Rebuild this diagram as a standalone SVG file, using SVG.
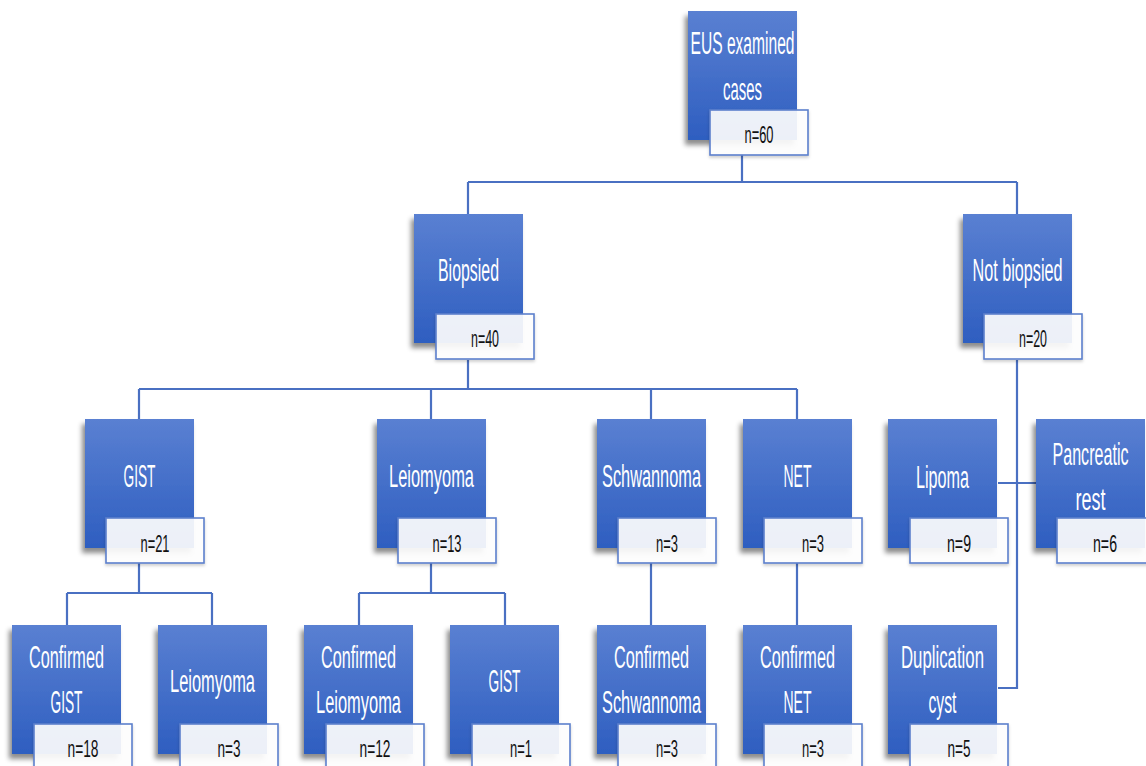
<svg xmlns="http://www.w3.org/2000/svg" width="1146" height="766" viewBox="0 0 1146 766">
<defs>
<linearGradient id="bg" x1="0" y1="0" x2="0" y2="1">
<stop offset="0" stop-color="#5a80d2"/>
<stop offset="1" stop-color="#2e5ec0"/>
</linearGradient>
<filter id="sh" x="-20%" y="-20%" width="140%" height="140%">
<feDropShadow dx="-3" dy="5" stdDeviation="2.5" flood-color="#000" flood-opacity="0.45"/>
</filter>
<filter id="sh2" x="-20%" y="-20%" width="140%" height="140%">
<feDropShadow dx="0" dy="2" stdDeviation="1.5" flood-color="#000" flood-opacity="0.2"/>
</filter>
</defs>
<style>
.b{fill:url(#bg);filter:url(#sh)}
.l{fill:#ffffff;fill-opacity:0.9;stroke:#5d80cc;stroke-width:1.6;filter:url(#sh2)}
.t{font-family:"Liberation Sans","DejaVu Sans",sans-serif;font-size:31px;fill:#ffffff;text-anchor:middle}
.n{font-family:"Liberation Sans","DejaVu Sans",sans-serif;font-size:24px;fill:#111111;text-anchor:middle}
.c{fill:none;stroke:#4a70c2;stroke-width:2.2}
</style>
<rect width="1146" height="766" fill="#ffffff"/>
<g id="connectors">
<path class="c" d="M742 154V182M468 182H1017M468 182V214M1017 182V214"/>
<path class="c" d="M468 360V389M139 389H797M139 389V419M431 389V419M651 389V419M797 389V419"/>
<path class="c" d="M1017 360V688H998M998 483H1036"/>
<path class="c" d="M139 563V593M67 593H212M67 593V625M212 593V625"/>
<path class="c" d="M431 563V593M359 593H505M359 593V625M505 593V625"/>
<path class="c" d="M651 563V625M797 563V625"/>
</g>
<g id="root">
<rect class="b" x="688" y="11" width="109" height="129"/>
<text class="t" x="742.5" y="54" textLength="104" lengthAdjust="spacingAndGlyphs">EUS examined</text>
<text class="t" x="742.5" y="100" textLength="39" lengthAdjust="spacingAndGlyphs">cases</text>
<rect class="l" x="710" y="110" width="98" height="45"/>
<text class="n" x="759" y="143" textLength="29" lengthAdjust="spacingAndGlyphs">n=60</text>
</g>
<g id="biopsied">
<rect class="b" x="414" y="214" width="109" height="129"/>
<text class="t" x="468.5" y="281" textLength="61" lengthAdjust="spacingAndGlyphs">Biopsied</text>
<rect class="l" x="436" y="314" width="98" height="45"/>
<text class="n" x="485" y="347" textLength="28" lengthAdjust="spacingAndGlyphs">n=40</text>
</g>
<g id="notbiopsied">
<rect class="b" x="963" y="214" width="109" height="129"/>
<text class="t" x="1017.5" y="281" textLength="90" lengthAdjust="spacingAndGlyphs">Not biopsied</text>
<rect class="l" x="984" y="314" width="98" height="45"/>
<text class="n" x="1033" y="347" textLength="28" lengthAdjust="spacingAndGlyphs">n=20</text>
</g>
<g id="gist">
<rect class="b" x="85" y="419" width="109" height="129"/>
<text class="t" x="139.5" y="487" textLength="32" lengthAdjust="spacingAndGlyphs">GIST</text>
<rect class="l" x="106" y="518" width="98" height="45"/>
<text class="n" x="155" y="552" textLength="29" lengthAdjust="spacingAndGlyphs">n=21</text>
</g>
<g id="leiomyoma">
<rect class="b" x="377" y="419" width="109" height="129"/>
<text class="t" x="431.5" y="487" textLength="85" lengthAdjust="spacingAndGlyphs">Leiomyoma</text>
<rect class="l" x="398" y="518" width="98" height="45"/>
<text class="n" x="447" y="552" textLength="29" lengthAdjust="spacingAndGlyphs">n=13</text>
</g>
<g id="schwannoma">
<rect class="b" x="597" y="419" width="109" height="129"/>
<text class="t" x="651.5" y="487" textLength="99" lengthAdjust="spacingAndGlyphs">Schwannoma</text>
<rect class="l" x="618" y="518" width="98" height="45"/>
<text class="n" x="667" y="552" textLength="22" lengthAdjust="spacingAndGlyphs">n=3</text>
</g>
<g id="net">
<rect class="b" x="743" y="419" width="109" height="129"/>
<text class="t" x="797.5" y="487" textLength="28" lengthAdjust="spacingAndGlyphs">NET</text>
<rect class="l" x="764" y="518" width="98" height="45"/>
<text class="n" x="813" y="552" textLength="22" lengthAdjust="spacingAndGlyphs">n=3</text>
</g>
<g id="lipoma">
<rect class="b" x="888" y="419" width="109" height="129"/>
<text class="t" x="942.5" y="488" textLength="53" lengthAdjust="spacingAndGlyphs">Lipoma</text>
<rect class="l" x="910" y="518" width="98" height="45"/>
<text class="n" x="959" y="552" textLength="24" lengthAdjust="spacingAndGlyphs">n=9</text>
</g>
<g id="pancreatic">
<rect class="b" x="1036" y="419" width="109" height="129"/>
<text class="t" x="1090.5" y="465" textLength="76" lengthAdjust="spacingAndGlyphs">Pancreatic</text>
<text class="t" x="1090.5" y="510" textLength="30" lengthAdjust="spacingAndGlyphs">rest</text>
<rect class="l" x="1057" y="518" width="98" height="45"/>
<text class="n" x="1105" y="552" textLength="24" lengthAdjust="spacingAndGlyphs">n=6</text>
</g>
<g id="confirmedgist">
<rect class="b" x="12" y="625" width="109" height="129"/>
<text class="t" x="66.5" y="668" textLength="75" lengthAdjust="spacingAndGlyphs">Confirmed</text>
<text class="t" x="66.5" y="713" textLength="32" lengthAdjust="spacingAndGlyphs">GIST</text>
<rect class="l" x="34" y="724" width="98" height="45"/>
<text class="n" x="83" y="757" textLength="31" lengthAdjust="spacingAndGlyphs">n=18</text>
</g>
<g id="leiomyoma2">
<rect class="b" x="158" y="625" width="109" height="129"/>
<text class="t" x="212.5" y="692" textLength="85" lengthAdjust="spacingAndGlyphs">Leiomyoma</text>
<rect class="l" x="180" y="724" width="98" height="45"/>
<text class="n" x="229" y="757" textLength="23" lengthAdjust="spacingAndGlyphs">n=3</text>
</g>
<g id="confirmedleiomyoma">
<rect class="b" x="304" y="625" width="109" height="129"/>
<text class="t" x="358.5" y="668" textLength="75" lengthAdjust="spacingAndGlyphs">Confirmed</text>
<text class="t" x="358.5" y="713" textLength="85" lengthAdjust="spacingAndGlyphs">Leiomyoma</text>
<rect class="l" x="326" y="724" width="98" height="45"/>
<text class="n" x="375" y="757" textLength="31" lengthAdjust="spacingAndGlyphs">n=12</text>
</g>
<g id="gist2">
<rect class="b" x="450" y="625" width="109" height="129"/>
<text class="t" x="504.5" y="692" textLength="32" lengthAdjust="spacingAndGlyphs">GIST</text>
<rect class="l" x="472" y="724" width="98" height="45"/>
<text class="n" x="521" y="757" textLength="22" lengthAdjust="spacingAndGlyphs">n=1</text>
</g>
<g id="confirmedschwannoma">
<rect class="b" x="597" y="625" width="109" height="129"/>
<text class="t" x="651.5" y="668" textLength="75" lengthAdjust="spacingAndGlyphs">Confirmed</text>
<text class="t" x="651.5" y="713" textLength="99" lengthAdjust="spacingAndGlyphs">Schwannoma</text>
<rect class="l" x="618" y="724" width="98" height="45"/>
<text class="n" x="667" y="757" textLength="22" lengthAdjust="spacingAndGlyphs">n=3</text>
</g>
<g id="confirmednet">
<rect class="b" x="743" y="625" width="109" height="129"/>
<text class="t" x="797.5" y="668" textLength="75" lengthAdjust="spacingAndGlyphs">Confirmed</text>
<text class="t" x="797.5" y="713" textLength="28" lengthAdjust="spacingAndGlyphs">NET</text>
<rect class="l" x="764" y="724" width="98" height="45"/>
<text class="n" x="813" y="757" textLength="22" lengthAdjust="spacingAndGlyphs">n=3</text>
</g>
<g id="duplicationcyst">
<rect class="b" x="888" y="625" width="109" height="129"/>
<text class="t" x="942.5" y="668" textLength="83" lengthAdjust="spacingAndGlyphs">Duplication</text>
<text class="t" x="942.5" y="713" textLength="28" lengthAdjust="spacingAndGlyphs">cyst</text>
<rect class="l" x="910" y="724" width="98" height="45"/>
<text class="n" x="959" y="757" textLength="23" lengthAdjust="spacingAndGlyphs">n=5</text>
</g>
</svg>
